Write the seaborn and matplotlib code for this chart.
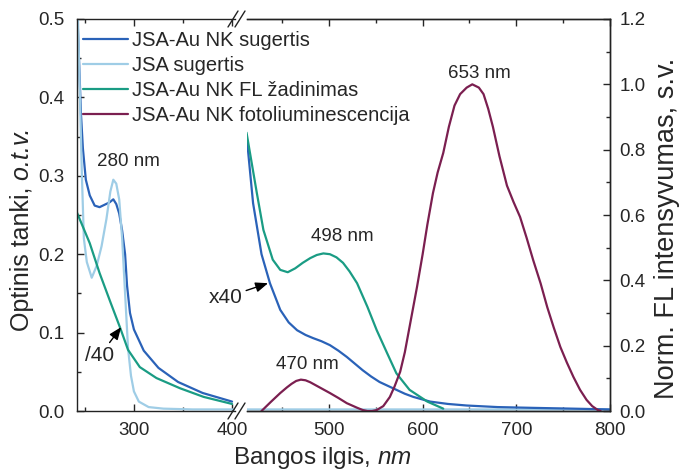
import numpy as np
import pandas as pd
import matplotlib
matplotlib.use("Agg")
import matplotlib.pyplot as plt
from matplotlib.lines import Line2D
from matplotlib.ticker import MultipleLocator, FormatStrFormatter
import seaborn as sns

# ---------------- data ----------------
# JSA-Au NK absorption, UV part (left segment)
wl_au_left = [242, 244, 246, 248, 251, 255, 260, 265, 270, 275, 279, 282, 285, 288, 291, 293,
              296, 300, 310, 325, 345, 370, 400]
abs_au_left = [0.52, 0.45, 0.38, 0.335, 0.295, 0.275, 0.262, 0.26, 0.263, 0.266, 0.27, 0.264,
               0.252, 0.23, 0.20, 0.16, 0.125, 0.104, 0.077, 0.055, 0.037, 0.023, 0.012]
# JSA-Au NK absorption x40 (right segment)
wl_au_right = [412, 419, 428, 437, 448, 457, 466, 475, 483, 492, 501, 510, 519, 527, 536, 545,
               554, 563, 572, 581, 590, 608, 627, 647, 680, 718, 760, 800]
abs_au_right = [0.352, 0.265, 0.20, 0.163, 0.129, 0.113, 0.103, 0.097, 0.093, 0.089, 0.084,
                0.077, 0.069, 0.061, 0.052, 0.044, 0.037, 0.032, 0.027, 0.022, 0.018, 0.012,
                0.009, 0.007, 0.005, 0.004, 0.003, 0.002]
# JSA absorption
wl_jsa = [242, 243, 245, 247, 249, 252, 257, 262, 267, 272, 276, 279, 282, 285, 288, 291, 294,
          297, 300, 305, 315, 330, 360, 400, 412, 500, 600, 700, 800]
abs_jsa = [0.52, 0.50, 0.40, 0.30, 0.22, 0.19, 0.17, 0.185, 0.21, 0.245, 0.28, 0.295, 0.29,
           0.27, 0.22, 0.15, 0.08, 0.045, 0.025, 0.012, 0.005, 0.003, 0.002, 0.002, 0.002,
           0.002, 0.002, 0.002, 0.002]
# JSA-Au NK FL excitation, /40 (left segment)
wl_exc_left = [242, 255, 265, 276, 286, 294, 306, 323, 347, 371, 400]
exc_left = [0.253, 0.214, 0.176, 0.139, 0.106, 0.078, 0.056, 0.042, 0.029, 0.018, 0.009]
# JSA-Au NK FL excitation (right segment)
wl_exc_right = [412, 423, 430, 440, 448, 456, 464, 472, 480, 487, 494, 501, 508, 515, 522, 530,
                541, 551, 562, 572, 586, 605, 622]
exc_right = [0.355, 0.278, 0.231, 0.193, 0.180, 0.177, 0.182, 0.189, 0.195, 0.199, 0.201, 0.200,
             0.196, 0.189, 0.178, 0.163, 0.133, 0.103, 0.074, 0.048, 0.027, 0.012, 0.003]
# JSA-Au NK photoluminescence (normalised, right y axis)
wl_pl = [428, 438, 448, 455, 460, 465, 470, 475, 480, 487, 494, 501, 510, 519, 530, 536, 541,
         546, 551, 558, 565, 570, 576, 581, 586, 594, 600, 605, 611, 616, 622, 628, 634, 640,
         647, 653, 660, 665, 670, 675, 682, 690, 697, 704, 711, 718, 726, 733, 740, 747, 754,
         761, 768, 775, 781, 787, 790]
pl = [0.0, 0.028, 0.055, 0.072, 0.083, 0.092, 0.096, 0.094, 0.088, 0.077, 0.066, 0.055, 0.04,
      0.024, 0.01, 0.003, 0.0, 0.0, 0.003, 0.015, 0.043, 0.075, 0.12, 0.18, 0.257, 0.38, 0.48,
      0.57, 0.667, 0.73, 0.79, 0.87, 0.935, 0.97, 0.99, 1.0, 0.99, 0.97, 0.925, 0.87, 0.78,
      0.69, 0.64, 0.594, 0.53, 0.462, 0.39, 0.318, 0.255, 0.196, 0.148, 0.104, 0.065, 0.034,
      0.015, 0.003, 0.0]

labels = ["JSA-Au NK sugertis", "JSA sugertis", "JSA-Au NK FL žadinimas",
          "JSA-Au NK fotoliuminescencija"]
colors = ["#2a62b8", "#9fcde6", "#1a9c84", "#7b1f50"]

# ---------------- style ----------------
sns.set_style("ticks")
plt.rcParams["font.family"] = ["Liberation Sans", "DejaVu Sans"]
plt.rcParams["mathtext.fontset"] = "custom"
plt.rcParams["mathtext.rm"] = "Liberation Sans"
plt.rcParams["mathtext.it"] = "Liberation Sans:italic"

W, H = 684, 473
fig = plt.figure(figsize=(W / 100, H / 100), dpi=100)

def fx(px):
    return px / W

def fy(py):
    return 1 - py / H

top, bot = 19, 411
axL = fig.add_axes([fx(77), fy(bot), fx(235) - fx(77), (bot - top) / H])
axR = fig.add_axes([fx(247), fy(bot), fx(610) - fx(247), (bot - top) / H])
axR2 = axR.twinx()

lw = 1.6
# left segment
sns.lineplot(x=wl_au_left, y=abs_au_left, ax=axL, color=colors[0], lw=lw, label=labels[0])
sns.lineplot(x=wl_jsa, y=abs_jsa, ax=axL, color=colors[1], lw=lw, label=labels[1])
sns.lineplot(x=wl_exc_left, y=exc_left, ax=axL, color=colors[2], lw=lw, label=labels[2])
# right segment
sns.lineplot(x=wl_jsa, y=abs_jsa, ax=axR, color=colors[1], lw=lw)
sns.lineplot(x=wl_au_right, y=abs_au_right, ax=axR, color=colors[0], lw=lw)
sns.lineplot(x=wl_exc_right, y=exc_right, ax=axR, color=colors[2], lw=lw)
sns.lineplot(x=wl_pl, y=pl, ax=axR2, color=colors[3], lw=lw, label=labels[3])

handles, labs = axL.get_legend_handles_labels()
h2, l2 = axR2.get_legend_handles_labels()
handles += h2
labs += l2
for a in (axL, axR, axR2):
    if a.get_legend() is not None:
        a.get_legend().remove()

axL.set_xlim(242, 403)
axR.set_xlim(412.5, 800)
for a in (axL, axR):
    a.set_ylim(0, 0.5)
axR2.set_ylim(0, 1.2)

# spines
axL.spines["right"].set_visible(False)
axR.spines["left"].set_visible(False)
axR2.spines["left"].set_visible(False)
for a in (axL, axR, axR2):
    for s in a.spines.values():
        s.set_linewidth(1.0)
        s.set_color("#222222")

# ticks
for a in (axL, axR):
    a.xaxis.set_major_locator(MultipleLocator(100))
    a.xaxis.set_minor_locator(MultipleLocator(50))
axL.yaxis.set_major_locator(MultipleLocator(0.1))
axL.yaxis.set_minor_locator(MultipleLocator(0.05))
axL.yaxis.set_major_formatter(FormatStrFormatter("%.1f"))
axR2.yaxis.set_major_locator(MultipleLocator(0.2))
axR2.yaxis.set_minor_locator(MultipleLocator(0.1))
axR2.yaxis.set_major_formatter(FormatStrFormatter("%.1f"))

tfs = 13.5
axL.tick_params(axis="x", which="both", direction="in", top=True, bottom=True,
                labelsize=tfs, pad=8)
axL.tick_params(axis="y", which="both", direction="in", left=True, right=False,
                labelsize=tfs, pad=9)
axR.tick_params(axis="x", which="both", direction="in", top=True, bottom=True,
                labelsize=tfs, pad=8)
axR.tick_params(axis="y", which="both", left=False, right=False, labelleft=False,
                labelright=False)
axR2.tick_params(axis="y", which="both", direction="in", right=True, left=False,
                 labelsize=tfs, pad=7)
for a in (axL, axR, axR2):
    a.tick_params(which="major", length=5, width=1)
    a.tick_params(which="minor", length=3, width=1)
    a.set_xlabel("")
    a.set_ylabel("")

# axis break marks
for yb in (top, bot):
    for x0 in (228, 235):
        fig.add_artist(Line2D([fx(x0), fx(x0 + 10)], [fy(yb + 8), fy(yb - 8)],
                              color="#222222", lw=1.0))

# axis labels
fig.text(fx(322), fy(458), "Bangos ilgis, $\\mathit{nm}$", ha="center", va="center",
         fontsize=17.5)
fig.text(fx(667), fy(228), "Norm. FL intensyvumas, s.v.", ha="center", va="center",
         rotation=90, fontsize=19.5)
# left label: normal part + italic part, centred as a whole
fig.canvas.draw()
rend = fig.canvas.get_renderer()
t1 = fig.text(fx(22), 0, "Optinis tanki,", ha="center", va="bottom", rotation=90,
              fontsize=18)
t2 = fig.text(fx(22), 0, " o.t.v.", ha="center", va="bottom", rotation=90,
              fontsize=18, style="italic")
h1 = t1.get_window_extent(rend).height
h2_ = t2.get_window_extent(rend).height
y0 = (H - 229) - (h1 + h2_) / 2
t1.set_y(y0 / H)
t2.set_y((y0 + h1) / H)

# annotations
afs = 13.5
axL.text(294, 0.318, "280 nm", ha="center", va="center", fontsize=afs)
axR.text(514, 0.222, "498 nm", ha="center", va="center", fontsize=afs)
axR.text(476.5, 0.0587, "470 nm", ha="center", va="center", fontsize=afs)
axR.text(661, 0.431, "653 nm", ha="center", va="center", fontsize=afs)
arrow = dict(arrowstyle="-|>,head_length=0.5,head_width=0.2", color="black", lw=1.0,
             shrinkA=0, shrinkB=0)
axR.annotate("x40", xy=(435, 0.163), xytext=(390, 0.145), ha="center", va="center",
             fontsize=15, arrowprops=arrow, annotation_clip=False)
axL.annotate("/40", xy=(287, 0.107), xytext=(265.5, 0.071), ha="center", va="center",
             fontsize=15, arrowprops=arrow)

fig.legend(handles, labs, loc="upper left", bbox_to_anchor=(fx(83), fy(31)),
           frameon=False, fontsize=14.5, borderpad=0, borderaxespad=0, handlelength=2.24,
           handletextpad=0.2, labelspacing=0.3)

fig.savefig("out.png", dpi=100)
